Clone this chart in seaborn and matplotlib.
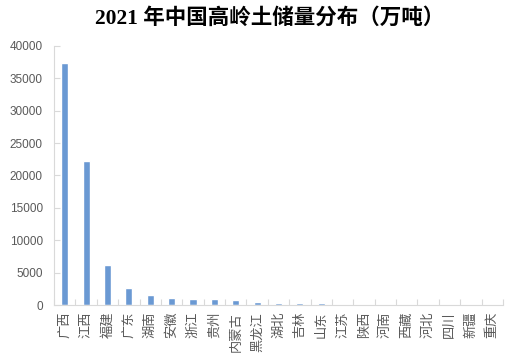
import matplotlib
matplotlib.use("Agg")
import matplotlib.pyplot as plt
import seaborn as sns
import pandas as pd
from matplotlib.ticker import FixedLocator

provinces = ["广西", "江西", "福建", "广东", "湖南", "安徽", "浙江", "贵州", "内蒙古", "黑龙江",
             "湖北", "吉林", "山东", "江苏", "陕西", "河南", "西藏", "河北", "四川", "新疆", "重庆"]
reserves = [37300, 22300, 6150, 2700, 1550, 1080, 980, 980, 730, 500,
            300, 250, 250, 40, 30, 30, 20, 20, 15, 15, 10]
y_ticks = [0, 5000, 10000, 15000, 20000, 25000, 30000, 35000, 40000]
title = "2021 年中国高岭土储量分布（万吨）"

df = pd.DataFrame({"province": provinces, "reserve": reserves})

sns.set_theme(style="white")
plt.rcParams["font.family"] = ["Noto Sans CJK SC", "DejaVu Sans"]

fig = plt.figure(figsize=(5.08, 3.62), dpi=100)
ax = fig.add_axes([54 / 508, 1 - 305 / 362, 449 / 508, 259 / 362])

sns.barplot(data=df, x="province", y="reserve", color="#6A99D3", saturation=1,
            width=0.33, ax=ax)

ax.set_ylim(0, 40000)
ax.set_xlim(-0.5, len(provinces) - 0.5)
ax.set_yticks(y_ticks)
ax.set_yticklabels([str(v) for v in y_ticks], fontfamily="Liberation Sans", fontsize=8.5, color="#595959")
ax.set_xlabel("")
ax.set_ylabel("")

ax.tick_params(axis="y", which="major", direction="in", length=4, width=0.8, color="#D9D9D9", pad=8, left=True)
ax.tick_params(axis="x", which="major", length=0, pad=5)
ax.xaxis.set_minor_locator(FixedLocator([i + 0.5 for i in range(-1, len(provinces))]))
ax.tick_params(axis="x", which="minor", direction="in", length=4, width=0.8, color="#D9D9D9", bottom=True)

for lbl in ax.get_xticklabels():
    lbl.set_rotation(90)
    lbl.set_fontsize(9.5)
    lbl.set_color("#595959")
    lbl.set_va("top")
    lbl.set_ha("center")

for s in ["top", "right"]:
    ax.spines[s].set_visible(False)
for s in ["left", "bottom"]:
    ax.spines[s].set_color("#D9D9D9")
    ax.spines[s].set_linewidth(0.8)

fig.text(270 / 508, 1 - 18 / 362, title, ha="center", va="center", fontsize=15.5, fontweight="bold",
         family=["Liberation Serif", "Noto Sans CJK SC"], color="#000000")

fig.savefig("out.png", dpi=100)
